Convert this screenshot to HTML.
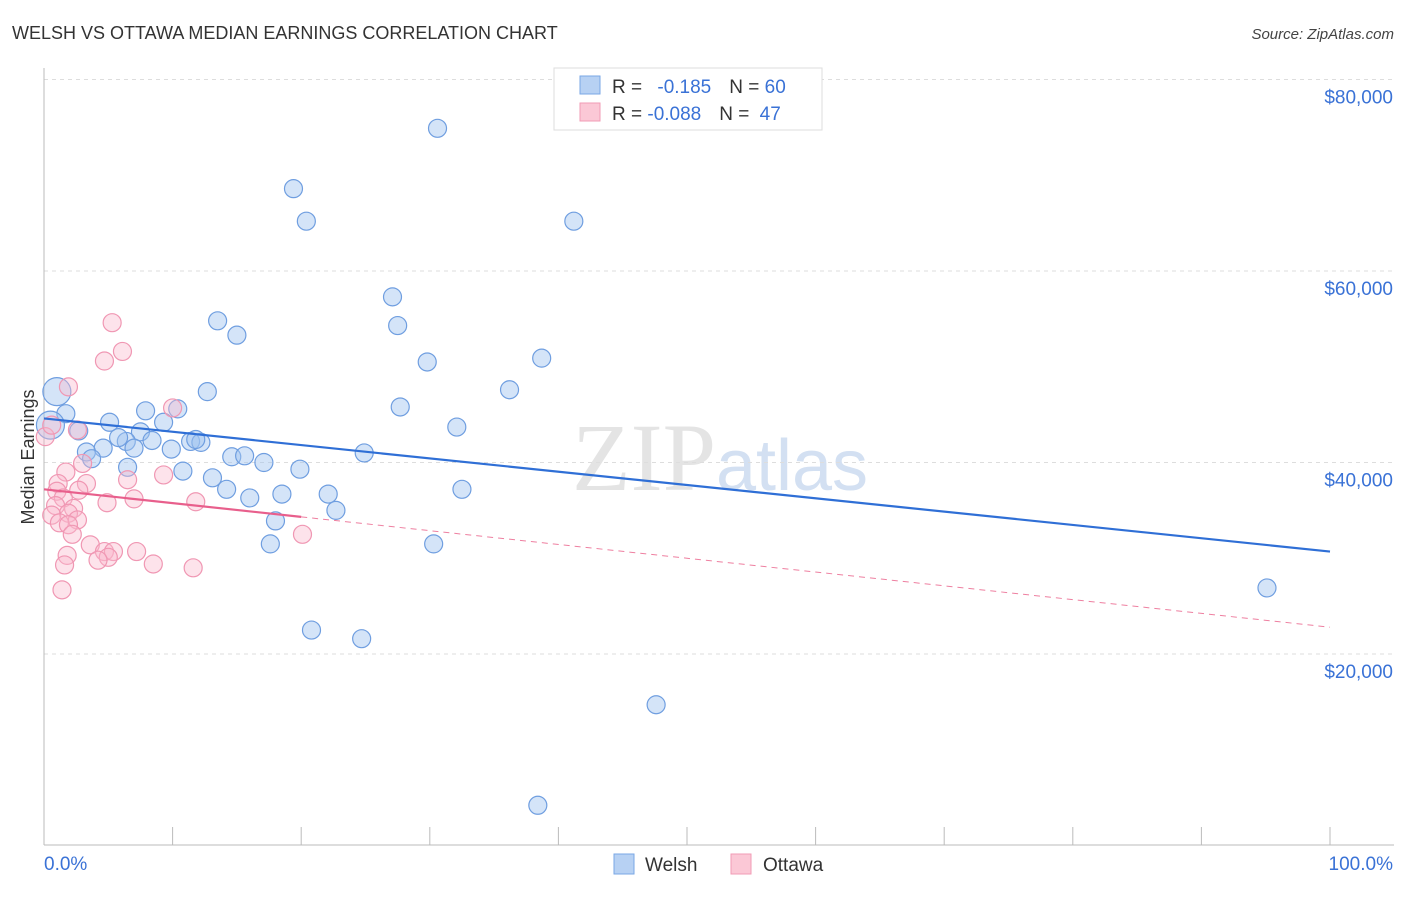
<!DOCTYPE html>
<html><head><meta charset="utf-8"><style>
body{margin:0;background:#fff;font-family:"Liberation Sans",sans-serif}
</style></head><body>
<svg id="chart" width="1406" height="892" xmlns="http://www.w3.org/2000/svg" font-family="Liberation Sans, sans-serif">
<text x="12" y="39" font-size="18" fill="#333">WELSH VS OTTAWA MEDIAN EARNINGS CORRELATION CHART</text>
<text x="1394" y="39" font-size="15" fill="#444" text-anchor="end" font-style="italic">Source: ZipAtlas.com</text>
<text x="720" y="490" font-size="96" fill="#e4e4e4" text-anchor="middle" font-family="Liberation Serif, serif">ZIP<tspan fill="#d3e0f2" font-family="Liberation Sans, sans-serif" font-size="72">atlas</tspan></text>
<text transform="translate(34,457) rotate(-90)" font-size="18" fill="#333" text-anchor="middle">Median Earnings</text>
<g id="grid"></g><g id="axes"></g><g id="marks"></g>
<g>
<rect x="554" y="68" width="268" height="62" fill="#fff" stroke="#ddd"/>
<rect x="580" y="76" width="20" height="18" fill="#b7d1f3" stroke="#7aa7e6"/>
<rect x="580" y="103" width="20" height="18" fill="#fbc8d6" stroke="#f19bb5"/>
<text x="612" y="93" font-size="19" fill="#333">R = <tspan fill="#3a72d6" dx="10">-0.185</tspan><tspan dx="18">N = </tspan><tspan fill="#3a72d6">60</tspan></text>
<text x="612" y="120" font-size="19" fill="#333">R = <tspan fill="#3a72d6">-0.088</tspan><tspan dx="18">N = </tspan><tspan fill="#3a72d6" dx="5">47</tspan></text>
</g>
<g>
<rect x="614" y="854" width="20" height="20" fill="#b7d1f3" stroke="#7aa7e6"/>
<text x="645" y="871" font-size="19" fill="#333">Welsh</text>
<rect x="731" y="854" width="20" height="20" fill="#fbc8d6" stroke="#f19bb5"/>
<text x="763" y="871" font-size="19" fill="#333">Ottawa</text>
</g>
</svg>
<script>
const yTicks=[20000,40000,60000,80000];
const yTickLabels=["$20,000","$40,000","$60,000","$80,000"];
const xLabels=["0.0%","100.0%"];
const welshX=[30.6,19.4,20.4,41.2,27.1,27.5,13.5,15.0,29.8,38.7,36.2,12.7,1.0,27.7,1.7,7.9,10.4,9.3,5.1,32.1,2.7,7.5,0.5,6.4,5.8,8.4,11.4,12.2,11.8,4.6,7.0,3.3,9.9,3.7,14.6,15.6,24.9,17.1,6.5,10.8,19.9,13.1,14.2,32.5,16.0,18.5,22.1,22.7,18.0,17.6,30.3,20.8,24.7,47.6,38.4,95.1];
const welshY=[74.9,68.6,65.2,65.2,57.3,54.3,54.8,53.3,50.5,50.9,47.6,47.4,47.4,45.8,45.1,45.4,45.6,44.2,44.2,43.7,43.3,43.2,43.9,42.2,42.6,42.3,42.2,42.1,42.4,41.5,41.5,41.1,41.4,40.4,40.6,40.7,41.0,40.0,39.5,39.1,39.3,38.4,37.2,37.2,36.3,36.7,36.7,35.0,33.9,31.5,31.5,22.5,21.6,14.7,4.2,26.9];
const welshBig=[12,22];
const ottawaX=[5.3,6.1,4.7,1.9,10.0,0.1,0.6,2.6,1.7,3.0,9.3,6.5,3.3,1.1,2.7,1.0,1.5,4.9,7.0,11.8,0.9,2.3,1.9,0.6,2.6,1.2,1.9,2.2,20.1,3.6,1.8,4.7,5.4,7.2,5.0,4.2,1.6,8.5,11.6,1.4];
const ottawaY=[54.6,51.6,50.6,47.9,45.7,42.7,43.9,43.4,39.0,39.9,38.7,38.2,37.8,37.8,37.1,37.0,36.3,35.8,36.2,35.9,35.5,35.2,34.7,34.5,34.0,33.7,33.5,32.5,32.5,31.4,30.3,30.7,30.7,30.7,30.1,29.8,29.3,29.4,29.0,26.7];
const welshTrend=[44.6,30.7];
const ottawaTrend=[37.2,22.8];
const ottawaSolidEnd=20;
const NS="http://www.w3.org/2000/svg";
const X=v=>44+v*12.86;
const Y=v=>845.5-v*9.575; // v in thousands
function mk(tag,attrs,parent){const e=document.createElementNS(NS,tag);for(const k in attrs)e.setAttribute(k,attrs[k]);document.getElementById(parent).appendChild(e);return e;}
yTicks.forEach((t,i)=>{
 const l=mk('line',{x1:44,x2:1394,y1:Y(t/1000),y2:Y(t/1000),stroke:'#ddd','stroke-dasharray':'4,4'},'grid');
 
 
 const tx=mk('text',{x:1393,y:Y(t/1000)+24,'font-size':19,fill:'#3a72d6','text-anchor':'end'},'axes');
 tx.textContent=yTickLabels[i];
 
 
});
const ax=mk('line',{x1:44,x2:1394,y1:845,y2:845,stroke:'#bbb'},'axes');


const ay=mk('line',{x1:44,x2:44,y1:68,y2:845,stroke:'#bbb'},'axes');


for(let i=0;i<=10;i++){const t=mk('line',{x1:X(i*10),x2:X(i*10),y1:827,y2:845,stroke:'#bbb'},'axes');
 
 }
[0,100].forEach((v,i)=>{const t=mk('text',{x:i?1393:44,y:870,'font-size':19,fill:'#3a72d6','text-anchor':i?'end':'start'},'axes');t.textContent=xLabels[i];
 
 });
welshX.forEach((x,i)=>{const c=mk('circle',{cx:X(x),cy:Y(welshY[i]),r:welshBig.includes(i)?14:9,fill:'rgba(160,195,240,0.45)',stroke:'#6f9ee0','stroke-width':1.2},'marks');
 
 });
ottawaX.forEach((x,i)=>{const c=mk('circle',{cx:X(x),cy:Y(ottawaY[i]),r:9,fill:'rgba(250,185,205,0.4)',stroke:'#f097b3','stroke-width':1.2},'marks');
 
 });
const wl=mk('line',{x1:X(0),y1:Y(welshTrend[0]),x2:X(100),y2:Y(welshTrend[1]),stroke:'#2f6fd6','stroke-width':2.2},'marks');


const oy=p=>ottawaTrend[0]+(ottawaTrend[1]-ottawaTrend[0])*p/100;
const od=mk('line',{x1:X(ottawaSolidEnd),y1:Y(oy(ottawaSolidEnd)),x2:X(100),y2:Y(oy(100)),stroke:'#ee7fa0','stroke-width':1,'stroke-dasharray':'6,5'},'marks');


const os=mk('line',{x1:X(0),y1:Y(oy(0)),x2:X(ottawaSolidEnd),y2:Y(oy(ottawaSolidEnd)),stroke:'#e85f8c','stroke-width':2.2},'marks');


</script>
</body></html>
